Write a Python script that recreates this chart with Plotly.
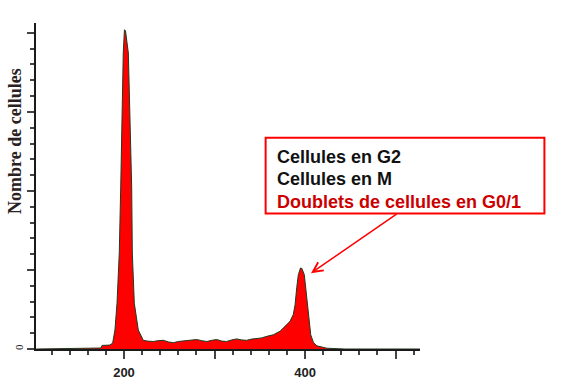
import plotly.graph_objects as go

# DNA content channel (x) and cell counts (y)
channel = [103, 134.8, 174.6, 175.7, 184.5, 187.5, 190.0, 192.3, 194.8, 196.4, 197.5, 199.2,
           200.5, 201.7, 204.8, 206.6, 208.5, 209.2, 211.4, 215.8, 221.3, 226.0, 232.4, 237.5,
           243.4, 249.0, 254.5, 260.0, 265.5, 272.0, 280.3, 286.0, 291.4, 297.0, 302.4, 308.0,
           313.4, 319.0, 324.5, 330.0, 335.6, 341.0, 346.6, 352.0, 357.7, 365.0, 372.4, 377.9,
           383.4, 387.0, 389.0, 390.8, 392.6, 395.0, 396.5, 399.2, 400.8, 402.6, 404.4, 406.3,
           409.2, 413.0, 424.0, 439.0, 444.0, 527]
counts = [0, 1, 2.5, 9, 10, 15, 48, 116, 243, 410, 580, 749,
          808, 805, 749, 580, 410, 243, 116, 48, 22, 20, 19, 21,
          22, 18, 16, 19, 20.5, 22, 24, 21, 19, 22, 24, 20,
          19, 23, 25.5, 23, 22, 25, 26.5, 28, 32, 36, 45, 57,
          70, 87, 112, 155, 188, 205, 204, 188, 155, 112, 70, 36,
          17, 8, 2, 1, 0, 0]

x_major = [200, 300, 400, 500]
x_major_labels = ["200", "", "400", ""]
x_minor = [120, 140, 160, 180, 220, 240, 260, 280, 320, 340, 360, 380, 420, 440, 460, 480, 520]
y_major = [0, 200, 400, 600, 800]
y_major_labels = ["0", "", "", "", ""]
y_minor = [40, 80, 120, 160, 240, 280, 320, 360, 440, 480, 520, 560, 640, 680, 720, 760]

callout_lines = ["Cellules en G2", "Cellules en M", "Doublets de cellules en G0/1"]
callout_colors = ["#111111", "#111111", "#cc0000"]

fig = go.Figure()
fig.add_trace(go.Scatter(
    x=channel, y=counts, mode="lines", fill="tozeroy",
    fillcolor="#ff0000", line=dict(color="#1f3a1f", width=1),
    hoverinfo="skip", showlegend=False))

axis_col = "#1a1a1a"
fig.update_layout(
    width=562, height=386,
    margin=dict(l=36, r=142, t=23, b=37),
    paper_bgcolor="white", plot_bgcolor="white",
    xaxis=dict(range=[102.8, 527], showgrid=False, zeroline=False, automargin=False,
               showline=True, linecolor=axis_col, linewidth=2,
               tickmode="array", tickvals=x_major, ticktext=x_major_labels,
               ticks="outside", ticklen=8, tickwidth=1.5, tickcolor="#444444",
               ticklabelstandoff=2,
               tickfont=dict(family="Liberation Sans, Arial", size=13, color="#222222", weight="bold"),
               minor=dict(tickmode="array", tickvals=x_minor, ticks="outside", ticklen=4,
                          tickwidth=1.5, tickcolor="#444444")),
    yaxis=dict(range=[0, 825], showgrid=False, zeroline=False, automargin=False,
               showline=True, linecolor=axis_col, linewidth=2,
               tickmode="array", tickvals=y_major, ticktext=y_major_labels,
               ticks="outside", ticklen=7, tickwidth=1.5, tickcolor="#444444",
               tickangle=-90,
               tickfont=dict(family="Liberation Serif, Times New Roman", size=11, color="#222222"),
               minor=dict(tickmode="array", tickvals=y_minor, ticks="outside", ticklen=4,
                          tickwidth=1.5, tickcolor="#444444")),
)

# y-axis title
fig.add_annotation(xref="paper", yref="paper", x=-0.0547, y=0.638,
                   text="Nombre de cellules", textangle=-90, showarrow=False,
                   font=dict(family="Liberation Serif, Times New Roman", size=18,
                             color="#2a2222", weight="bold"),
                   xanchor="center", yanchor="middle")

# callout box
fig.add_shape(type="rect", xref="paper", yref="paper",
              x0=0.598, x1=1.324, y0=0.416, y1=0.648,
              line=dict(color="#ff0000", width=2), fillcolor="rgba(0,0,0,0)")
for txt, col, yp in zip(callout_lines, callout_colors, [0.590, 0.520, 0.450]):
    fig.add_annotation(xref="paper", yref="paper", x=0.6224, y=yp,
                       xanchor="left", yanchor="middle", align="left", showarrow=False,
                       text=txt,
                       font=dict(family="Liberation Sans, Arial", size=18, color=col, weight="bold"))

# arrow to the G2 peak
fig.add_annotation(x=406.6, y=192, xref="x", yref="y", text="",
                   showarrow=True, ax=87, ay=-60, axref="pixel", ayref="pixel",
                   arrowcolor="#ff0000", arrowwidth=1.5, arrowhead=5, arrowsize=1.3)

fig.write_html("out.html",
               config={"displayModeBar": False},
               post_script="document.body.style.margin='0';document.body.style.overflow='hidden';")
